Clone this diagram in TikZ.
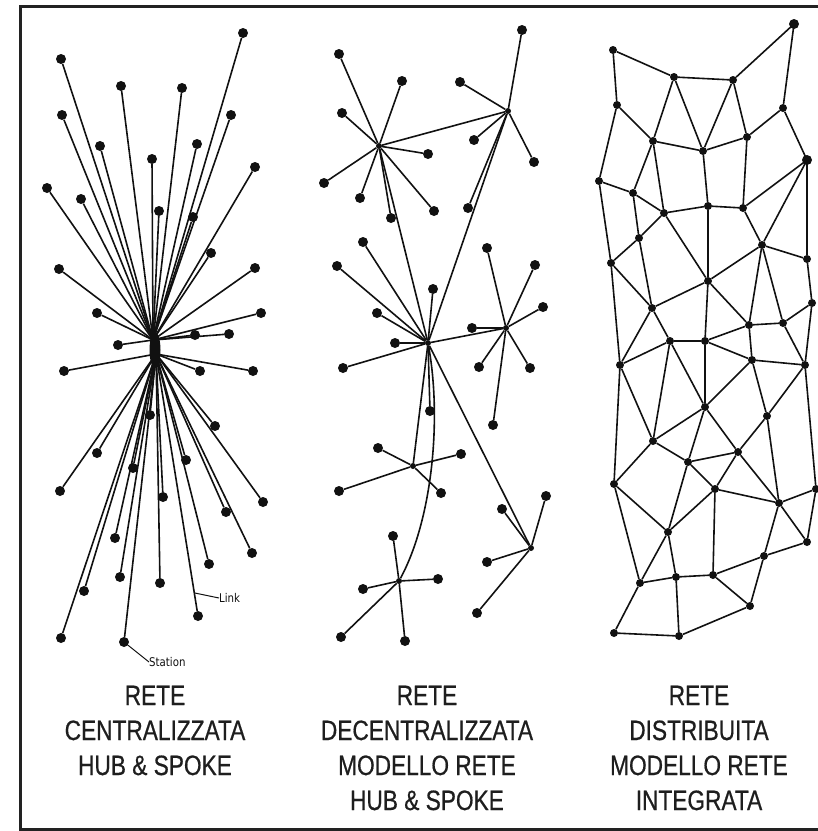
\documentclass[tikz,border=0pt]{standalone}
\usepackage{fontspec}
\newfontfamily\labfont[FakeStretch=0.81,FakeBold=0.6]{Liberation Sans}
\newfontfamily\handfont[FakeStretch=0.85]{DejaVu Sans}
\definecolor{ink}{HTML}{111111}
\definecolor{framec}{HTML}{222222}
\definecolor{textc}{HTML}{1E1E1E}
\tikzset{
  cdot/.style={circle, fill=ink, inner sep=0pt, minimum size=10pt},
  hubdot/.style={circle, fill=ink, inner sep=0pt, minimum size=6pt},
  ddot/.style={circle, fill=ink, inner sep=0pt, minimum size=8pt},
  bigddot/.style={circle, fill=ink, inner sep=0pt, minimum size=10pt},
  wire/.style={draw=ink, line width=1.6pt},
  thinwire/.style={draw=ink, line width=1pt},
  caption/.style={font=\labfont\fontsize{28}{35}\selectfont, text=textc, anchor=base, inner sep=0pt},
  small/.style={font=\handfont\fontsize{12}{14}\selectfont, text=ink, inner sep=0pt}
}
\begin{document}
\begin{tikzpicture}[x=1pt,y=-1pt]
\useasboundingbox (0,0) rectangle (818,831);
\fill[white] (0,0) rectangle (818,831);
% frame
\draw[line width=3pt, draw=framec] (830,6) -- (20,6) -- (20,829) -- (830,829);

% ===== centralized =====
\coordinate (hubT) at (153,340);
\coordinate (hubL) at (156,354);
\foreach \x/\y [count=\i] in {61/59,243/33,121/86,182/88,62/115,231/115,100/146,197/144,152/159,255/167,47/188,81/199,159/211,193/217,211/253,59/269,255/268,97/313,261/313,195/335,229/334,118/345,64/371,200/371,253/371,150/415,215/426,97/453,186/460,133/468,60/491,163/497,263/502,226/512,115/538,252/553,209/564,120/577,160/583,84/591,198/616,61/638,124/642}
  \node[cdot] (c\i) at (\x,\y) {};
\foreach \i in {1,...,22} \draw[wire] (hubT) -- (c\i);
\foreach \i in {23,...,43} \draw[wire] (hubL) -- (c\i);
\fill[ink] (155,350) ellipse (5.5pt and 18pt);
\path (hubL) -- (c41) coordinate[pos=0.93] (linkpt);
\node[small, anchor=west] (linklab) at (219,598) {Link};
\draw[thinwire] (linkpt) -- (linklab.west);
\node[small, anchor=west] (stationlab) at (149,662) {Station};
\draw[thinwire] (c43) -- (stationlab.west);

% ===== decentralized =====
\node[hubdot] (A) at (379,146) {};
\node[hubdot] (B) at (508,111) {};
\node[hubdot] (C) at (428,343) {};
\node[hubdot] (D) at (506,328) {};
\node[hubdot] (E) at (413,466) {};
\node[hubdot] (F) at (399,581) {};
\node[hubdot] (G) at (531,548) {};
\foreach \x/\y [count=\i] in {339/54,402/81,342/113,428/154,324/183,360/198,391/218,434/211}
  {\node[cdot] (A\i) at (\x,\y) {}; \draw[wire] (A) -- (A\i);}
\foreach \x/\y [count=\i] in {522/30,460/82,474/140,534/162,468/208}
  {\node[cdot] (B\i) at (\x,\y) {}; \draw[wire] (B) -- (B\i);}
\foreach \x/\y [count=\i] in {337/266,363/242,433/289,377/313,395/343,343/368,430/411}
  {\node[cdot] (C\i) at (\x,\y) {}; \draw[wire] (C) -- (C\i);}
\foreach \x/\y [count=\i] in {487/248,535/265,543/307,472/328,479/367,530/368,493/425}
  {\node[cdot] (D\i) at (\x,\y) {}; \draw[wire] (D) -- (D\i);}
\foreach \x/\y [count=\i] in {378/448,461/454,339/491,441/493}
  {\node[cdot] (E\i) at (\x,\y) {}; \draw[wire] (E) -- (E\i);}
\foreach \x/\y [count=\i] in {393/536,438/579,363/589,341/637,405/641}
  {\node[cdot] (F\i) at (\x,\y) {}; \draw[wire] (F) -- (F\i);}
\foreach \x/\y [count=\i] in {546/496,502/509,487/562,477/613}
  {\node[cdot] (G\i) at (\x,\y) {}; \draw[wire] (G) -- (G\i);}
\draw[wire] (A) -- (B);
\draw[wire] (A) -- (C);
\draw[wire] (B) -- (C);
\draw[wire] (C) -- (D);
\draw[wire] (C) -- (E);
\draw[wire] (C) -- (G);
\draw[wire] (C) .. controls (442,420) and (432,520) .. (F);

% ===== distributed =====
\foreach \x/\y [count=\i] in {613/50,674/77,733/80,794/24,617/105,783/108,653/141,703/151,747/137,807/160,599/181,633/193,664/213,708/206,743/208,639/238,762/245,611/263,807/259,708/281,652/308,812/303,749/325,783/323,670/341,705/341,752/360,805/365,620/365,705/407,767/416,653/441,738/452,688/462,614/484,715/489,779/503,816/489,668/532,807/542,764/556,640/583,676/577,713/575,750/606,614/633,679/636}
  \node[ddot] (d\i) at (\x,\y) {};
\node[bigddot] (d4big) at (d4) {};
\node[bigddot] (d10big) at (d10) {};
\foreach \a/\b in {1/2,2/3,3/4,1/5,4/6,2/7,2/8,3/8,3/9,5/7,7/8,8/9,9/6,6/10,5/11,7/12,7/13,8/14,9/15,10/15,10/17,10/19,11/12,12/13,13/14,14/15,12/16,11/18,16/13,16/18,15/17,17/19,13/20,14/20,17/20,18/21,16/21,20/21,17/23,17/24,19/22,20/23,23/24,24/22,21/25,21/29,18/29,25/26,20/26,26/23,23/27,27/28,24/28,22/28,29/25,26/27,28/31,27/31,27/30,26/30,25/30,25/32,29/32,29/35,30/32,30/34,30/33,31/33,31/37,32/34,32/35,34/33,34/36,33/36,33/37,34/39,36/37,37/38,37/40,37/41,36/39,36/44,35/39,35/42,39/42,39/43,42/43,43/44,44/41,41/40,44/45,41/45,42/46,43/47,46/47,47/45,28/38,38/40}
  \draw[wire] (d\a) -- (d\b);

% ===== captions =====
\node[caption] (t11) at (155,705) {RETE};
\node[caption] (t12) at (155,740) {CENTRALIZZATA};
\node[caption] (t13) at (155,775) {HUB \& SPOKE};
\node[caption] (t21) at (427,705) {RETE};
\node[caption] (t22) at (427,740) {DECENTRALIZZATA};
\node[caption] (t23) at (427,775) {MODELLO RETE};
\node[caption] (t24) at (427,810) {HUB \& SPOKE};
\node[caption] (t31) at (699,705) {RETE};
\node[caption] (t32) at (699,740) {DISTRIBUITA};
\node[caption] (t33) at (699,775) {MODELLO RETE};
\node[caption] (t34) at (699,810) {INTEGRATA};
\end{tikzpicture}
\end{document}
